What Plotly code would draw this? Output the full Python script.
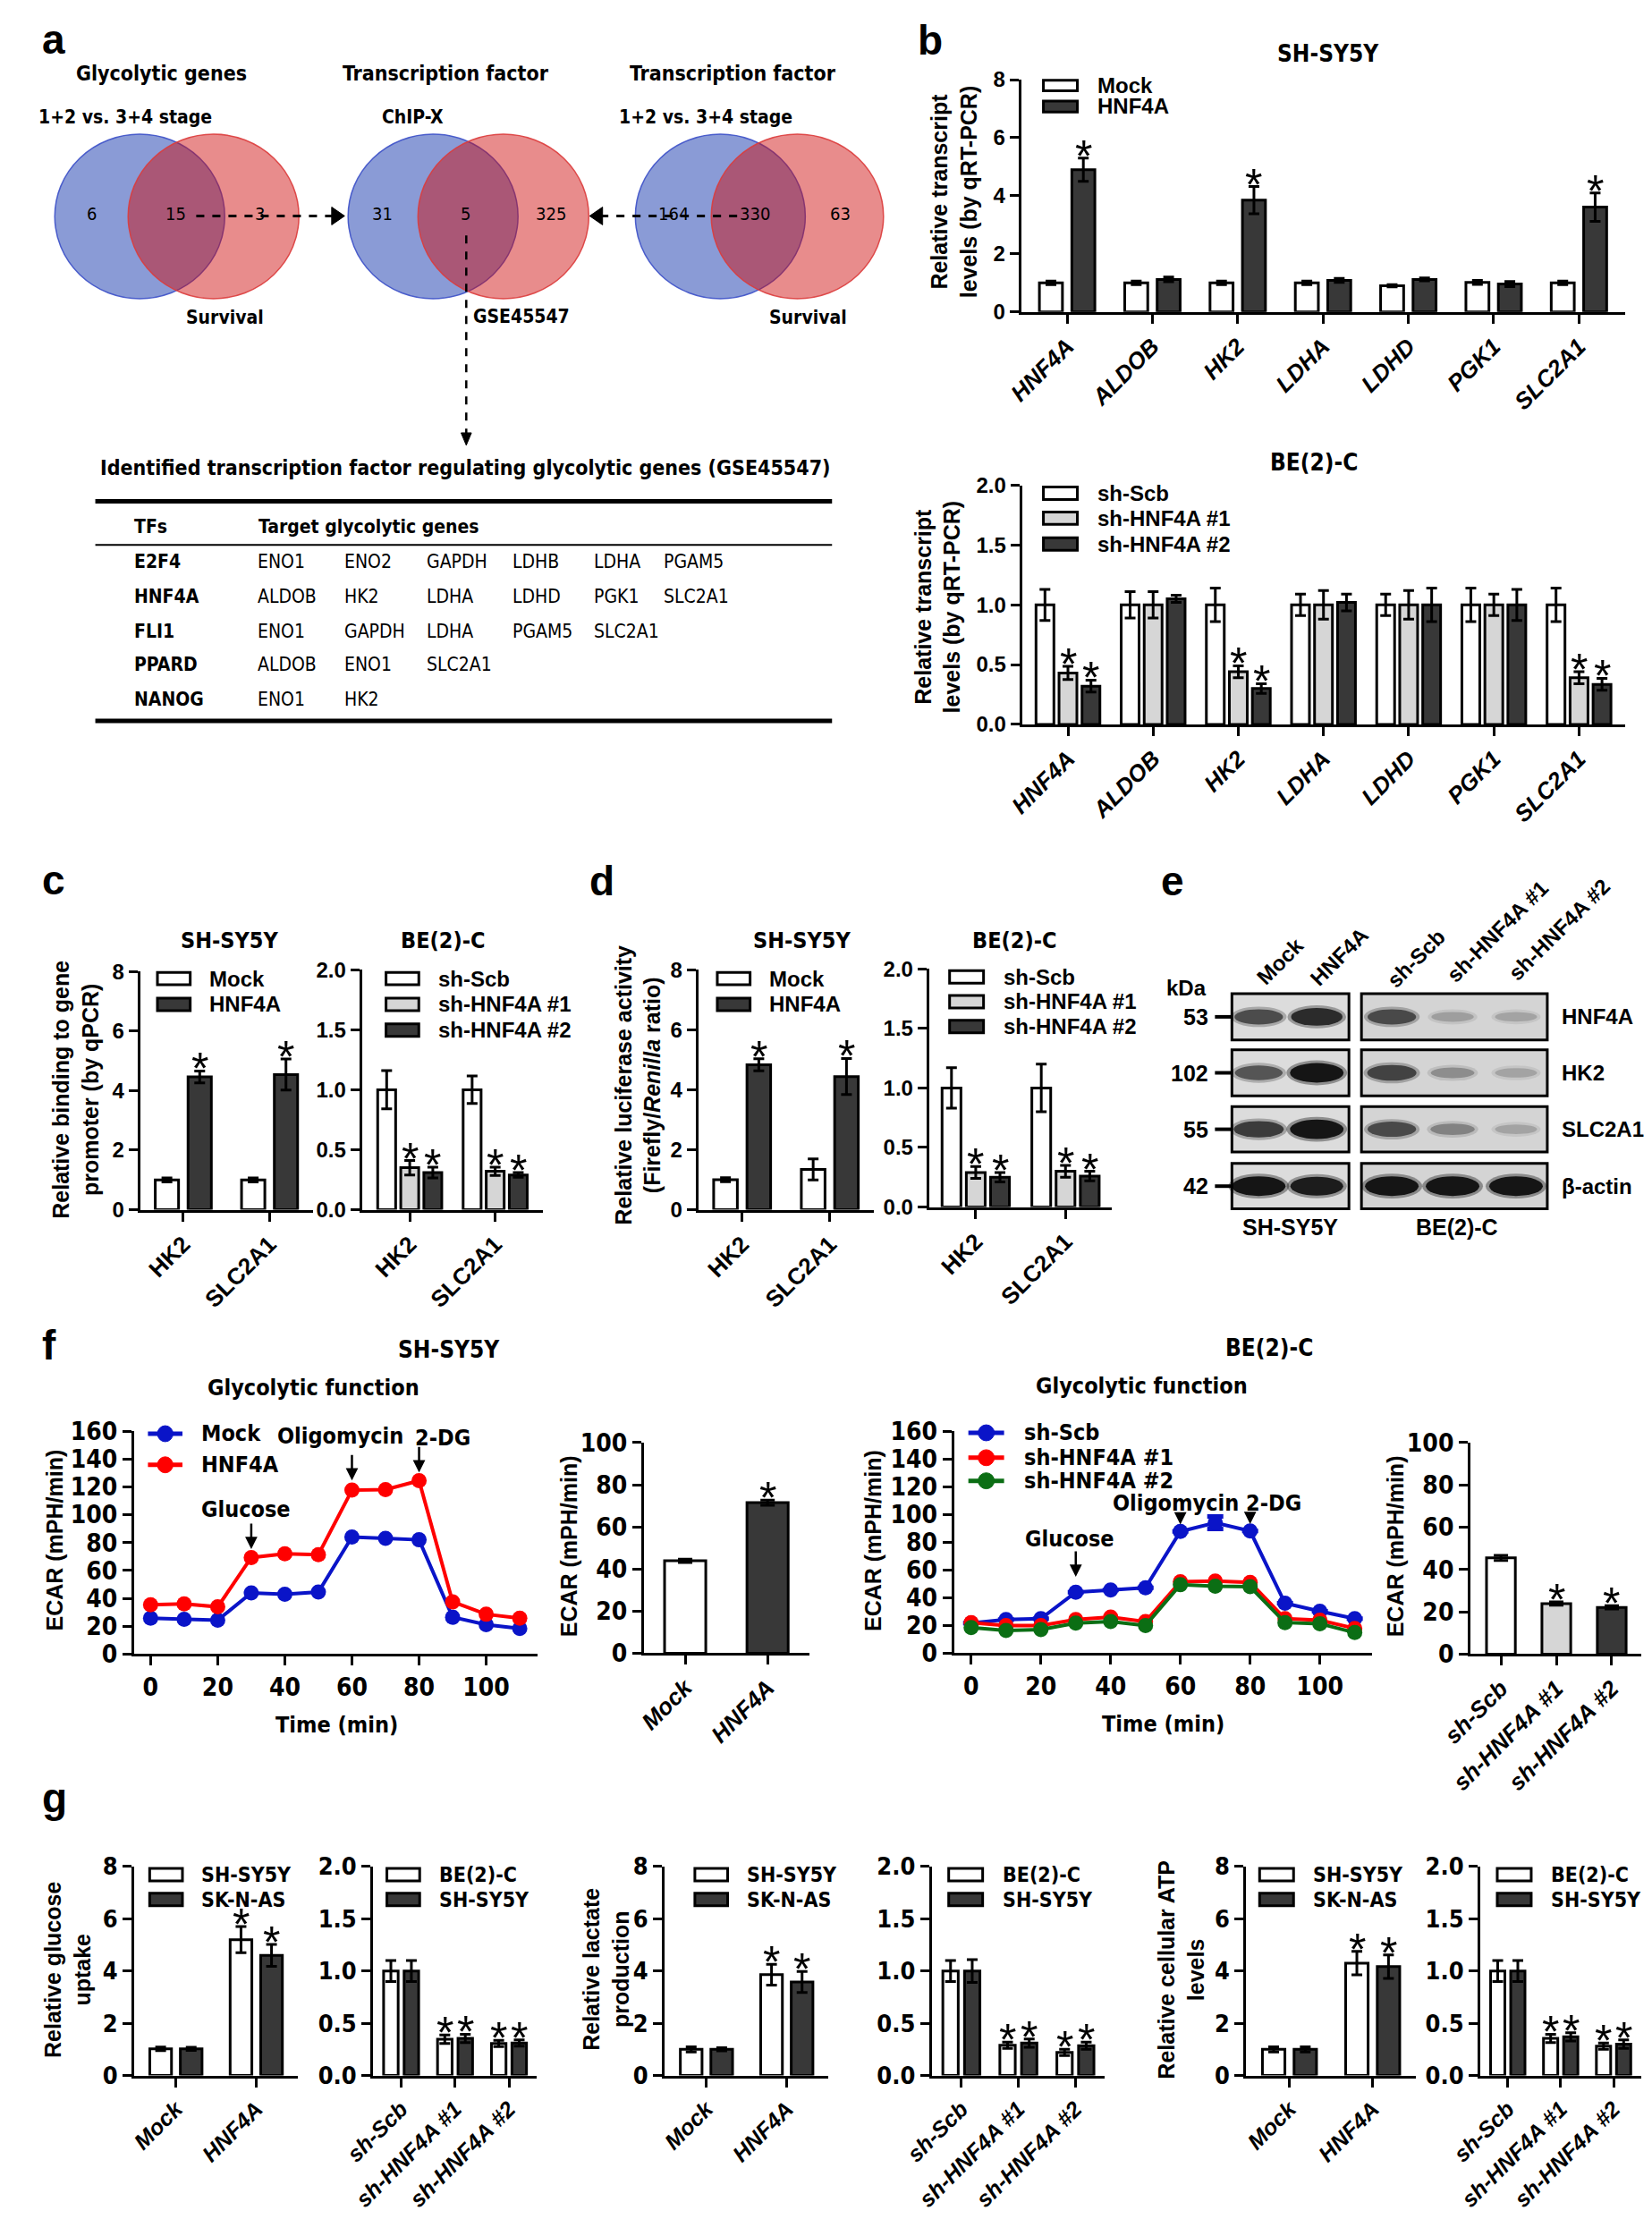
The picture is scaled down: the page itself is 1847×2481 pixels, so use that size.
import plotly.graph_objects as go

# layout is written in target picture pixels (y down) and mapped to paper coords
W, H = 1847, 2481
OFF = 8
FW, FH = W - 2 * OFF, H - 2 * OFF
# measured placement of the page inside the photographed picture
AX, BX = 32.3, 0.982
AY, BY = 13.3, 0.985
ARIAL = "Liberation Sans, Arial, Helvetica, sans-serif"
NARROW = "Liberation Sans Narrow, Arial Narrow, DejaVu Sans Condensed, Liberation Sans, sans-serif"
DARK = "#383838"
LIGHT = "#d6d6d6"

# ---------------- data ----------------
# a: Venn counts (left only, overlap, right only)
venn_glyco = [6, 15, 3]
venn_tf_chip = [31, 5, 325]
venn_tf_stage = [164, 330, 63]

tf_names = ["E2F4", "HNF4A", "FLI1", "PPARD", "NANOG"]
tf_targets = [
    ["ENO1", "ENO2", "GAPDH", "LDHB", "LDHA", "PGAM5"],
    ["ALDOB", "HK2", "LDHA", "LDHD", "PGK1", "SLC2A1"],
    ["ENO1", "GAPDH", "LDHA", "PGAM5", "SLC2A1"],
    ["ALDOB", "ENO1", "SLC2A1"],
    ["ENO1", "HK2"],
]

# b: qRT-PCR
genes_b = ["HNF4A", "ALDOB", "HK2", "LDHA", "LDHD", "PGK1", "SLC2A1"]
b_sy5y_mock = [1.0, 1.0, 1.0, 1.0, 0.9, 1.02, 1.0]
b_sy5y_mock_err = [0.06, 0.06, 0.06, 0.06, 0.04, 0.07, 0.06]
b_sy5y_hnf4a = [4.9, 1.12, 3.85, 1.09, 1.12, 0.96, 3.61]
b_sy5y_hnf4a_err = [0.4, 0.08, 0.47, 0.07, 0.05, 0.09, 0.49]
b_sy5y_sig = [1, 0, 1, 0, 0, 0, 1]

b_be2c_scb = [1.0, 1.0, 1.0, 1.0, 1.0, 1.0, 1.0]
b_be2c_scb_err = [0.13, 0.11, 0.14, 0.09, 0.09, 0.14, 0.14]
b_be2c_sh1 = [0.43, 1.0, 0.44, 1.0, 1.0, 1.0, 0.39]
b_be2c_sh1_err = [0.055, 0.11, 0.05, 0.12, 0.12, 0.09, 0.05]
b_be2c_sh2 = [0.32, 1.05, 0.30, 1.02, 1.0, 1.0, 0.335]
b_be2c_sh2_err = [0.05, 0.03, 0.04, 0.07, 0.14, 0.13, 0.05]
b_be2c_sig = [1, 0, 1, 0, 0, 0, 1]

# c: ChIP-qPCR, d: luciferase
promoters = ["HK2", "SLC2A1"]
c_sy5y_mock = [1.0, 1.0]
c_sy5y_mock_err = [0.07, 0.07]
c_sy5y_hnf4a = [4.46, 4.54]
c_sy5y_hnf4a_err = [0.2, 0.52]
c_be2c_scb = [1.0, 1.0]
c_be2c_scb_err = [0.16, 0.115]
c_be2c_sh1 = [0.35, 0.32]
c_be2c_sh1_err = [0.06, 0.035]
c_be2c_sh2 = [0.31, 0.29]
c_be2c_sh2_err = [0.045, 0.02]

d_sy5y_mock = [1.0, 1.34]
d_sy5y_mock_err = [0.07, 0.35]
d_sy5y_hnf4a = [4.83, 4.44]
d_sy5y_hnf4a_err = [0.2, 0.6]
d_be2c_scb = [1.0, 1.0]
d_be2c_scb_err = [0.17, 0.2]
d_be2c_sh1 = [0.29, 0.30]
d_be2c_sh1_err = [0.05, 0.05]
d_be2c_sh2 = [0.25, 0.26]
d_be2c_sh2_err = [0.04, 0.04]

# e: western blot (band darkness 0..1)
blot_lanes = ["Mock", "HNF4A", "sh-Scb", "sh-HNF4A #1", "sh-HNF4A #2"]
blot_proteins = ["HNF4A", "HK2", "SLC2A1", "β-actin"]
blot_kda = ["53", "102", "55", "42"]
blot_hnf4a = [0.65, 0.85, 0.65, 0.22, 0.2]
blot_hk2 = [0.6, 1.0, 0.7, 0.3, 0.2]
blot_slc2a1 = [0.75, 1.0, 0.65, 0.35, 0.2]
blot_actin = [1.0, 0.95, 1.0, 1.0, 1.0]

# f: Seahorse ECAR
time_min = [0, 10, 20, 30, 40, 50, 60, 70, 80, 90, 100, 110]
f_sy5y_mock = [25.8, 25.0, 24.4, 43.9, 43.0, 44.5, 84.0, 83.0, 82.0, 26.5, 21.2, 18.4]
f_sy5y_hnf4a = [35.4, 36.0, 33.9, 69.3, 72.0, 71.4, 117.6, 118.0, 124.4, 37.5, 28.6, 25.8]
f_sy5y_groups = ["Mock", "HNF4A"]
f_sy5y_bar = [43.9, 71.5]
f_sy5y_bar_err = [0.8, 1.2]
f_sy5y_bar_sig = [0, 1]

f_be2c_scb = [21.7, 24.3, 24.9, 44.0, 45.5, 47.2, 87.7, 94.0, 88.0, 36.0, 30.2, 24.9]
f_be2c_scb_err = [0, 0, 0, 0, 0, 0, 0, 4.5, 0, 0, 0, 0]
f_be2c_sh1 = [22.0, 20.0, 20.0, 24.3, 26.0, 22.8, 51.5, 52.0, 51.0, 24.9, 23.8, 17.9]
f_be2c_sh2 = [18.5, 16.4, 17.0, 21.7, 22.8, 20.0, 49.4, 48.3, 47.9, 22.1, 21.3, 14.9]
f_be2c_groups = ["sh-Scb", "sh-HNF4A #1", "sh-HNF4A #2"]
f_be2c_bar = [45.5, 23.9, 22.1]
f_be2c_bar_err = [1.2, 0.8, 0.8]
f_be2c_bar_sig = [0, 1, 1]

# g: glucose uptake, lactate, ATP
oe_groups = ["Mock", "HNF4A"]
kd_groups = ["sh-Scb", "sh-HNF4A #1", "sh-HNF4A #2"]
g_glc_oe_sy5y = [1.02, 5.2]
g_glc_oe_sy5y_err = [0.07, 0.5]
g_glc_oe_skn = [1.02, 4.6]
g_glc_oe_skn_err = [0.06, 0.42]
g_glc_kd_be2c = [1.0, 0.347, 0.307]
g_glc_kd_be2c_err = [0.1, 0.04, 0.03]
g_glc_kd_sy5y = [1.0, 0.355, 0.31]
g_glc_kd_sy5y_err = [0.1, 0.04, 0.03]
g_lac_oe_sy5y = [1.0, 3.86]
g_lac_oe_sy5y_err = [0.1, 0.4]
g_lac_oe_skn = [1.0, 3.58]
g_lac_oe_skn_err = [0.06, 0.4]
g_lac_kd_be2c = [1.0, 0.29, 0.22]
g_lac_kd_be2c_err = [0.1, 0.03, 0.03]
g_lac_kd_sy5y = [1.0, 0.31, 0.285]
g_lac_kd_sy5y_err = [0.11, 0.04, 0.035]
g_atp_oe_sy5y = [1.0, 4.3]
g_atp_oe_sy5y_err = [0.1, 0.45]
g_atp_oe_skn = [1.0, 4.17]
g_atp_oe_skn_err = [0.1, 0.45]
g_atp_kd_be2c = [1.0, 0.355, 0.28]
g_atp_kd_be2c_err = [0.1, 0.04, 0.03]
g_atp_kd_sy5y = [1.0, 0.37, 0.3]
g_atp_kd_sy5y_err = [0.1, 0.04, 0.04]
oe_sig = [0, 1]
kd_sig = [0, 1, 1]

fig = go.Figure()


# ---------------- helpers ----------------
def warp_x(x):
    # the picture's far-left strip is unreachable, squeeze the left column a little
    return x if x >= 940 else 42 + (x - 10) * (940 - 42) / (940 - 10)


def warp_y(y):
    return y if y >= 120 else 24 + (y - 5) * (120 - 24) / (120 - 5)


def PX(x):
    return ((warp_x(x) - AX) / BX - OFF) / FW


def PY(y):
    return 1 - ((warp_y(y) - AY) / BY - OFF) / FH


def txt(x, y, s, size=22, family=ARIAL, bold=True, italic=False, xa="center", ya="middle", angle=0):
    if bold:
        s = f"<b>{s}</b>"
    if italic:
        s = f"<i>{s}</i>"
    fig.add_annotation(x=PX(x), y=PY(y), xref="paper", yref="paper", text=s, showarrow=False,
                       xanchor=xa, yanchor=ya, textangle=angle,
                       font=dict(family=family, size=size, color="black"))


def rect(x0, y0, x1, y1, fill, lw=3, lc="black"):
    fig.add_shape(type="rect", xref="paper", yref="paper", x0=PX(x0), x1=PX(x1),
                  y0=PY(y1), y1=PY(y0), fillcolor=fill, line=dict(color=lc, width=lw))


def ellipse(x0, y0, x1, y1, fill, lc, lw=1.5):
    fig.add_shape(type="circle", xref="paper", yref="paper", x0=PX(x0), x1=PX(x1),
                  y0=PY(y1), y1=PY(y0), fillcolor=fill, line=dict(color=lc, width=lw))


def seg(x0, y0, x1, y1, lw=3, dash="solid"):
    fig.add_shape(type="line", xref="paper", yref="paper", x0=PX(x0), x1=PX(x1),
                  y0=PY(y0), y1=PY(y1), line=dict(color="black", width=lw, dash=dash))


def tri(pts):
    path = "M " + " L ".join(f"{PX(x)},{PY(y)}" for x, y in pts) + " Z"
    fig.add_shape(type="path", xref="paper", yref="paper", path=path,
                  fillcolor="black", line=dict(color="black", width=1))


axis_count = [0]


def new_axes(box, xr, yr, xtv, xtt, ytv, ytt, xfont, yfont, xangle=-45, x_italic=False):
    x0, x1, y_top, y_bot = box
    axis_count[0] += 1
    k = axis_count[0]
    sx = "" if k == 1 else str(k)
    common = dict(showline=True, linewidth=3, linecolor="black", ticks="outside", ticklen=10,
                  tickwidth=3, tickcolor="black", showgrid=False, zeroline=False, fixedrange=True)
    xt = [f"<i><b>{t}</b></i>" if x_italic else f"<b>{t}</b>" for t in xtt]
    yt = [f"<b>{t}</b>" for t in ytt]
    fig.update_layout(**{
        f"xaxis{sx}": dict(domain=[PX(x0), PX(x1)], range=xr, anchor=f"y{sx}", tickmode="array",
                           tickvals=xtv, ticktext=xt, tickfont=xfont, tickangle=xangle, **common),
        f"yaxis{sx}": dict(domain=[PY(y_bot), PY(y_top)], range=yr, anchor=f"x{sx}",
                           tickmode="array", tickvals=ytv, ticktext=yt, tickfont=yfont, **common),
    })
    return f"x{sx}", f"y{sx}"


def star(xa, ya, x, y, size=50):
    fig.add_annotation(x=x, y=y, xref=xa, yref=ya, text="*", showarrow=False, yanchor="bottom",
                       yshift=-28, font=dict(family=ARIAL, size=size, color="black"))


def bar_panel(box, cats, series, ymax, ystep, yfmt, xfont, yfont, pad=0.52, x_italic=True):
    n = len(cats)
    ticks = [i * ystep for i in range(int(round(ymax / ystep)) + 1)]
    xa, ya = new_axes(box, [-pad, n - 1 + pad], [0, ymax], list(range(n)), cats,
                      ticks, [yfmt.format(t) for t in ticks], xfont, yfont, x_italic=x_italic)
    k = len(series)
    width = 0.27 if k == 2 else 0.21
    centers = [-0.19, 0.19] if k == 2 else [-0.27, 0.0, 0.27]
    for s, dx in zip(series, centers):
        xs = [i + dx for i in range(n)]
        fig.add_trace(go.Bar(x=xs, y=s["y"], width=width, xaxis=xa, yaxis=ya, showlegend=False,
                             marker=dict(color=s["color"], line=dict(color="black", width=3)),
                             error_y=dict(type="data", array=s["err"], color="black", thickness=3, width=6)))
        for x, v, e, g in zip(xs, s["y"], s["err"], s["sig"]):
            if g:
                star(xa, ya, x, v + e)
    return xa, ya


def bar_legend(xbox, rows, labels, colors, size=24, family=ARIAL):
    for y, lab, col in zip(rows, labels, colors):
        rect(xbox, y - 7, xbox + 38, y + 7, col)
        txt(xbox + 58, y, lab, size=size, family=family, xa="left")


def line_legend(x0, rows, labels, colors, size=25):
    for y, lab, col in zip(rows, labels, colors):
        fig.add_shape(type="line", xref="paper", yref="paper", x0=PX(x0), x1=PX(x0 + 40),
                      y0=PY(y), y1=PY(y), line=dict(color=col, width=5))
        fig.add_shape(type="circle", xref="paper", yref="paper", x0=PX(x0 + 11), x1=PX(x0 + 29),
                      y0=PY(y + 9), y1=PY(y - 9), fillcolor=col, line=dict(color=col, width=1))
        txt(x0 + 60, y, lab, size=size, family=NARROW, xa="left")


def arrow(xa, ya, x, y, length=30):
    fig.add_annotation(x=x, y=y, xref=xa, yref=ya, ax=0, ay=-length, text="", showarrow=True,
                       arrowhead=2, arrowsize=1.1, arrowwidth=2.5, arrowcolor="black", standoff=0)


# ---------------- panel letters ----------------
for letter, (lx, ly) in zip("abcdefg", [(10, 26), (1022, 27), (10, 987), (645, 988),
                                         (1295, 988), (10, 1510), (10, 2020)]):
    txt(lx, ly, letter, size=46, xa="left")

# ---------------- a: Venn diagrams ----------------
BLUE = "rgba(42,73,180,0.55)"
RED = "rgba(206,10,10,0.47)"
venn_sets = [
    (venn_glyco, 27, 112, [70, 167, 265]),
    (venn_tf_chip, 367, 448, [407, 503, 602]),
    (venn_tf_stage, 700, 788, [744, 839, 938]),
]
for counts, bx, rx, nx in venn_sets:
    ellipse(bx, 148, bx + 197, 333, BLUE, "rgba(60,80,200,0.9)")
    ellipse(rx, 148, rx + 198, 333, RED, "rgba(220,60,60,0.9)")
    for x, c in zip(nx, counts):
        txt(x, 238, str(c), size=20, family=NARROW, bold=False)

txt(151, 72, "Glycolytic genes", size=23, family=NARROW)
txt(480, 72, "Transcription factor", size=23, family=NARROW)
txt(813, 72, "Transcription factor", size=23, family=NARROW)
txt(109, 129, "1+2 vs. 3+4 stage", size=21, family=NARROW)
txt(442, 129, "ChIP-X", size=21, family=NARROW)
txt(782, 129, "1+2 vs. 3+4 stage", size=21, family=NARROW)
txt(224, 354, "Survival", size=21, family=NARROW)
txt(900, 354, "Survival", size=21, family=NARROW)
txt(510, 353, "GSE45547", size=21, family=NARROW, xa="left")

seg(191, 240, 350, 240, lw=3, dash="dash")
tri([(348, 230), (363, 240), (348, 250)])
seg(818, 240, 660, 240, lw=3, dash="dash")
tri([(662, 230), (647, 240), (662, 250)])
seg(504, 262, 504, 484, lw=2.5, dash="dash")
tri([(498, 484), (504, 498), (510, 484)])

# ---------------- a: table ----------------
txt(503, 523, "Identified transcription factor regulating glycolytic genes (GSE45547)", size=23, family=NARROW)
seg(74, 561, 928, 561, lw=5)
seg(74, 610, 928, 610, lw=2)
seg(74, 808, 928, 808, lw=5)
txt(117, 590, "TFs", size=21, family=NARROW, xa="left")
txt(261, 590, "Target glycolytic genes", size=21, family=NARROW, xa="left")
gene_cols = [260, 361, 456, 556, 650, 731]
for y, name, targets in zip([629, 668, 707, 745, 784], tf_names, tf_targets):
    txt(117, y, name, size=21, family=NARROW, xa="left")
    for x, g in zip(gene_cols, targets):
        txt(x, y, g, size=21, family=NARROW, bold=False, xa="left")

# ---------------- b ----------------
xf = dict(family=ARIAL, size=26, color="black")
yf = dict(family=ARIAL, size=24, color="black")

bar_panel((1140, 1816, 80, 348), genes_b, [
    dict(y=b_sy5y_mock, err=b_sy5y_mock_err, color="white", sig=[0] * 7),
    dict(y=b_sy5y_hnf4a, err=b_sy5y_hnf4a_err, color=DARK, sig=b_sy5y_sig),
], 8, 2, "{:.0f}", xf, yf, pad=0.54)
txt(1484, 45, "SH-SY5Y", size=26, family=NARROW)
bar_legend(1165, [88, 116], ["Mock", "HNF4A"], ["white", DARK])
txt(1065, 213, "Relative transcript<br>levels (by qRT-PCR)", size=25, angle=-90)

bar_panel((1141, 1816, 543, 812), genes_b, [
    dict(y=b_be2c_scb, err=b_be2c_scb_err, color="white", sig=[0] * 7),
    dict(y=b_be2c_sh1, err=b_be2c_sh1_err, color=LIGHT, sig=b_be2c_sig),
    dict(y=b_be2c_sh2, err=b_be2c_sh2_err, color=DARK, sig=b_be2c_sig),
], 2, 0.5, "{:.1f}", xf, yf, pad=0.54)
txt(1468, 517, "BE(2)-C", size=26, family=NARROW)
bar_legend(1165, [552, 580, 609], ["sh-Scb", "sh-HNF4A #1", "sh-HNF4A #2"], ["white", LIGHT, DARK])
txt(1047, 680, "Relative transcript<br>levels (by qRT-PCR)", size=25, angle=-90)

# ---------------- c ----------------
bar_panel((126, 326, 1090, 1358), promoters, [
    dict(y=c_sy5y_mock, err=c_sy5y_mock_err, color="white", sig=[0, 0]),
    dict(y=c_sy5y_hnf4a, err=c_sy5y_hnf4a_err, color=DARK, sig=[1, 1]),
], 8, 2, "{:.0f}", xf, yf, pad=0.5, x_italic=False)
bar_panel((383, 593, 1088, 1358), promoters, [
    dict(y=c_be2c_scb, err=c_be2c_scb_err, color="white", sig=[0, 0]),
    dict(y=c_be2c_sh1, err=c_be2c_sh1_err, color=LIGHT, sig=[1, 1]),
    dict(y=c_be2c_sh2, err=c_be2c_sh2_err, color=DARK, sig=[1, 1]),
], 2, 0.5, "{:.1f}", xf, yf, pad=0.56, x_italic=False)
txt(229, 1055, "SH-SY5Y", size=25, family=NARROW)
txt(477, 1055, "BE(2)-C", size=25, family=NARROW)
bar_legend(146, [1098, 1127], ["Mock", "HNF4A"], ["white", DARK])
bar_legend(411, [1098, 1127, 1156], ["sh-Scb", "sh-HNF4A #1", "sh-HNF4A #2"], ["white", LIGHT, DARK])
txt(51, 1223, "Relative binding to gene<br>promoter (by qPCR)", size=25, angle=-90)

# ---------------- d ----------------
bar_panel((773, 975, 1088, 1358), promoters, [
    dict(y=d_sy5y_mock, err=d_sy5y_mock_err, color="white", sig=[0, 0]),
    dict(y=d_sy5y_hnf4a, err=d_sy5y_hnf4a_err, color=DARK, sig=[1, 1]),
], 8, 2, "{:.0f}", xf, yf, pad=0.5, x_italic=False)
bar_panel((1037, 1242, 1087, 1355), promoters, [
    dict(y=d_be2c_scb, err=d_be2c_scb_err, color="white", sig=[0, 0]),
    dict(y=d_be2c_sh1, err=d_be2c_sh1_err, color=LIGHT, sig=[1, 1]),
    dict(y=d_be2c_sh2, err=d_be2c_sh2_err, color=DARK, sig=[1, 1]),
], 2, 0.5, "{:.1f}", xf, yf, pad=0.52, x_italic=False)
txt(893, 1055, "SH-SY5Y", size=25, family=NARROW)
txt(1133, 1055, "BE(2)-C", size=25, family=NARROW)
bar_legend(795, [1098, 1127], ["Mock", "HNF4A"], ["white", DARK])
bar_legend(1060, [1096, 1124, 1152], ["sh-Scb", "sh-HNF4A #1", "sh-HNF4A #2"], ["white", LIGHT, DARK])
txt(703, 1218, "Relative luciferase activity<br>(Firefly/</b><i><b>Renilla</b></i><b> ratio)", size=25, angle=-90)

# ---------------- e: western blot ----------------
lane_x = [1406, 1471, 1555, 1623, 1694]
row_box = [(1115, 1167), (1178, 1230), (1242, 1293), (1306, 1357)]
blot_rows = [blot_hnf4a, blot_hk2, blot_slc2a1, blot_actin]
for (y0, y1), prot, kda, dens in zip(row_box, blot_proteins, blot_kda, blot_rows):
    rect(1376, y0, 1507, y1, "#dcdcdc", lw=3)
    rect(1521, y0, 1729, y1, "#d4d4d4", lw=3)
    yc = (y0 + y1) / 2
    for x, d in zip(lane_x, dens):
        bw = 44 + 16 * d
        bh = 8 + 14 * d
        ellipse(x - bw / 2 - 4, yc - bh / 2 - 3, x + bw / 2 + 4, yc + bh / 2 + 3,
                f"rgba(0,0,0,{0.35 * d:.2f})", "rgba(0,0,0,0)", lw=0)
        ellipse(x - bw / 2, yc - bh / 2, x + bw / 2, yc + bh / 2,
                f"rgba(0,0,0,{0.85 * d:.2f})", "rgba(0,0,0,0)", lw=0)
    seg(1357, yc, 1375, yc, lw=4)
    txt(1352, yc, kda, size=25, xa="right")
    txt(1743, yc, prot, size=24, xa="left")
txt(1325, 1108, "kDa", size=24)
for (cx, cy), lab in zip([(1430, 1078), (1496, 1073), (1582, 1075), (1673, 1045), (1742, 1043)], blot_lanes):
    txt(cx, cy, lab, size=24, angle=-45)
txt(1441, 1378, "SH-SY5Y", size=25)
txt(1628, 1378, "BE(2)-C", size=25)

# ---------------- f ----------------
xf_n = dict(family=NARROW, size=28, color="black")
xf_it = dict(family=ARIAL, size=26, color="black")
t_ticks = [0, 20, 40, 60, 80, 100]
e_ticks = [0, 20, 40, 60, 80, 100, 120, 140, 160]
xa, ya = new_axes((119, 587, 1607, 1858), [-4.9, 115.4], [0, 160], t_ticks, [str(t) for t in t_ticks],
                  e_ticks, [str(t) for t in e_ticks], xf_n, xf_n, xangle=0)
for ys, col in [(f_sy5y_mock, "#0a14c8"), (f_sy5y_hnf4a, "#ff0000")]:
    fig.add_trace(go.Scatter(x=time_min, y=ys, mode="lines+markers", xaxis=xa, yaxis=ya, showlegend=False,
                             line=dict(color=col, width=4), marker=dict(color=col, size=17)))
arrow(xa, ya, 30, f_sy5y_hnf4a[3] + 6)
arrow(xa, ya, 60, f_sy5y_hnf4a[6] + 7)
arrow(xa, ya, 80, f_sy5y_hnf4a[8] + 6)
txt(249, 1695, "Glucose", size=25, family=NARROW)
txt(358, 1613, "Oligomycin", size=25, family=NARROW)
txt(477, 1615, "2-DG", size=25, family=NARROW)
line_legend(135, [1610, 1645], ["Mock", "HNF4A"], ["#0a14c8", "#ff0000"])
txt(27, 1730, "ECAR (mPH/min)", size=25, angle=-90)
txt(354, 1938, "Time (min)", size=25, family=NARROW)
txt(484, 1515, "SH-SY5Y", size=26, family=NARROW)
txt(327, 1558, "Glycolytic function", size=25, family=NARROW)

b_ticks = [0, 20, 40, 60, 80, 100]
xa, ya = new_axes((710, 902, 1620, 1857), [-0.5, 1.51], [0, 100], [0, 1], f_sy5y_groups,
                  b_ticks, [str(t) for t in b_ticks], xf_it, xf_n, x_italic=True)
fig.add_trace(go.Bar(x=[0, 1], y=f_sy5y_bar, width=0.5, xaxis=xa, yaxis=ya, showlegend=False,
                     marker=dict(color=["white", DARK], line=dict(color="black", width=3)),
                     error_y=dict(type="data", array=f_sy5y_bar_err, color="black", thickness=3, width=8)))
for i, (v, e, g) in enumerate(zip(f_sy5y_bar, f_sy5y_bar_err, f_sy5y_bar_sig)):
    if g:
        star(xa, ya, i, v + e)
txt(623, 1737, "ECAR (mPH/min)", size=25, angle=-90)

xa, ya = new_axes((1065, 1533, 1607, 1857), [-4.9, 115], [0, 160], t_ticks, [str(t) for t in t_ticks],
                  e_ticks, [str(t) for t in e_ticks], xf_n, xf_n, xangle=0)
for ys, er, col in [(f_be2c_scb, f_be2c_scb_err, "#0a14c8"), (f_be2c_sh1, None, "#ff0000"),
                    (f_be2c_sh2, None, "#0b6e14")]:
    fig.add_trace(go.Scatter(x=time_min, y=ys, mode="lines+markers", xaxis=xa, yaxis=ya, showlegend=False,
                             line=dict(color=col, width=4), marker=dict(color=col, size=17),
                             error_y=dict(type="data", array=er, color=col, thickness=5, width=9,
                                          visible=er is not None)))
arrow(xa, ya, 30, f_be2c_scb[3] + 11)
arrow(xa, ya, 60, f_be2c_scb[6] + 5, length=12)
arrow(xa, ya, 80, f_be2c_scb[8] + 5, length=12)
txt(1194, 1728, "Glucose", size=25, family=NARROW)
txt(1348, 1688, "Oligomycin 2-DG", size=25, family=NARROW)
line_legend(1081, [1609, 1637, 1663], ["sh-Scb", "sh-HNF4A #1", "sh-HNF4A #2"],
            ["#0a14c8", "#ff0000", "#0b6e14"])
txt(974, 1730, "ECAR (mPH/min)", size=25, angle=-90)
txt(1299, 1937, "Time (min)", size=25, family=NARROW)
txt(1418, 1513, "BE(2)-C", size=26, family=NARROW)
txt(1275, 1556, "Glycolytic function", size=25, family=NARROW)

xa, ya = new_axes((1643, 1834, 1620, 1858), [-0.55, 2.53], [0, 100], [0, 1, 2], f_be2c_groups,
                  b_ticks, [str(t) for t in b_ticks], xf_it, xf_n, x_italic=True)
fig.add_trace(go.Bar(x=[0, 1, 2], y=f_be2c_bar, width=0.52, xaxis=xa, yaxis=ya, showlegend=False,
                     marker=dict(color=["white", LIGHT, DARK], line=dict(color="black", width=3)),
                     error_y=dict(type="data", array=f_be2c_bar_err, color="black", thickness=3, width=8)))
for i, (v, e, g) in enumerate(zip(f_be2c_bar, f_be2c_bar_err, f_be2c_bar_sig)):
    if g:
        star(xa, ya, i, v + e)
txt(1559, 1737, "ECAR (mPH/min)", size=25, angle=-90)

# ---------------- g ----------------
g_specs = [
    ((119, 309), oe_groups, g_glc_oe_sy5y, g_glc_oe_sy5y_err, g_glc_oe_skn, g_glc_oe_skn_err, 8, 2, "{:.0f}", ["SH-SY5Y", "SK-N-AS"], 137),
    ((396, 586), kd_groups, g_glc_kd_be2c, g_glc_kd_be2c_err, g_glc_kd_sy5y, g_glc_kd_sy5y_err, 2, 0.5, "{:.1f}", ["BE(2)-C", "SH-SY5Y"], 412),
    ((734, 924), oe_groups, g_lac_oe_sy5y, g_lac_oe_sy5y_err, g_lac_oe_skn, g_lac_oe_skn_err, 8, 2, "{:.0f}", ["SH-SY5Y", "SK-N-AS"], 769),
    ((1040, 1234), kd_groups, g_lac_kd_be2c, g_lac_kd_be2c_err, g_lac_kd_sy5y, g_lac_kd_sy5y_err, 2, 0.5, "{:.1f}", ["BE(2)-C", "SH-SY5Y"], 1059),
    ((1392, 1582), oe_groups, g_atp_oe_sy5y, g_atp_oe_sy5y_err, g_atp_oe_skn, g_atp_oe_skn_err, 8, 2, "{:.0f}", ["SH-SY5Y", "SK-N-AS"], 1407),
    ((1654, 1834), kd_groups, g_atp_kd_be2c, g_atp_kd_be2c_err, g_atp_kd_sy5y, g_atp_kd_sy5y_err, 2, 0.5, "{:.1f}", ["BE(2)-C", "SH-SY5Y"], 1673),
]
yf_g = dict(family=NARROW, size=27, color="black")
xf_g = dict(family=ARIAL, size=25, color="black")
for (x0, x1), cats, w_y, w_e, d_y, d_e, ymax, ystep, fmt, names, lx in g_specs:
    sig = oe_sig if len(cats) == 2 else kd_sig
    bar_panel((x0, x1, 2097, 2332), cats, [
        dict(y=w_y, err=w_e, color="white", sig=sig),
        dict(y=d_y, err=d_e, color=DARK, sig=sig),
    ], ymax, ystep, fmt, xf_g, yf_g, pad=0.52)
    bar_legend(lx, [2106, 2134], names, ["white", DARK], size=23, family=NARROW)
txt(42, 2213, "Relative glucose<br>uptake", size=25, angle=-90)
txt(666, 2213, "Relative lactate<br>production", size=25, angle=-90)
txt(1319, 2213, "Relative cellular ATP<br>levels", size=25, angle=-90)

fig.update_layout(width=FW, height=FH, margin=dict(l=0, r=0, t=0, b=0), barmode="overlay",
                  plot_bgcolor="white", paper_bgcolor="white", showlegend=False)
fig.write_html("out.html")
